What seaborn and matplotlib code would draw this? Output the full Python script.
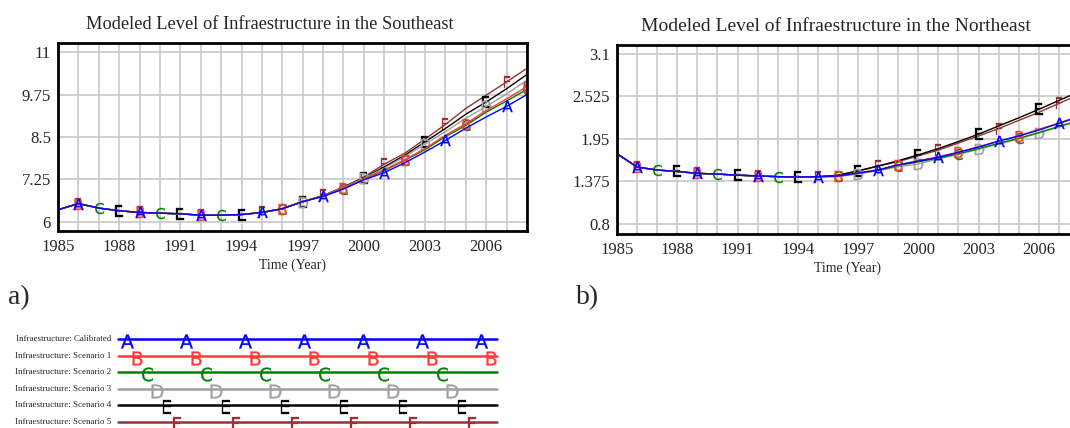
import numpy as np
import pandas as pd
import matplotlib
matplotlib.use("Agg")
import matplotlib.pyplot as plt
from matplotlib.ticker import MultipleLocator, FormatStrFormatter
import seaborn as sns

# --- data ---
years = list(range(1985, 2009))
series_names = ["Infraestructure: Calibrated", "Infraestructure: Scenario 1",
                "Infraestructure: Scenario 2", "Infraestructure: Scenario 3",
                "Infraestructure: Scenario 4", "Infraestructure: Scenario 5"]
letters = ["A", "B", "C", "D", "E", "F"]
colors = ["#0000ff", "#ff3a3a", "#008000", "#a0a0a0", "#000000", "#963232"]

# Southeast, shared part 1985-1997 then per scenario 1998-2008
se_common = [6.36, 6.54, 6.41, 6.33, 6.28, 6.26, 6.24, 6.20, 6.20, 6.22, 6.28, 6.39, 6.60]
se_calibrated = [6.75, 6.97, 7.24, 7.45, 7.74, 8.06, 8.40, 8.76, 9.09, 9.40, 9.75]
se_scen1 = [6.76, 6.99, 7.27, 7.53, 7.83, 8.16, 8.55, 8.89, 9.28, 9.62, 9.98]
se_scen2 = [6.76, 6.98, 7.26, 7.51, 7.81, 8.13, 8.51, 8.84, 9.23, 9.56, 9.90]
se_scen3 = [6.77, 7.01, 7.29, 7.58, 7.92, 8.29, 8.66, 9.05, 9.40, 9.77, 10.17]
se_scen4 = [6.77, 7.02, 7.30, 7.62, 7.96, 8.36, 8.75, 9.17, 9.53, 9.92, 10.34]
se_scen5 = [6.78, 7.03, 7.32, 7.70, 8.02, 8.44, 8.87, 9.34, 9.73, 10.12, 10.52]

# Northeast, shared part 1985-1995 then per scenario 1996-2008
ne_common = [1.75, 1.57, 1.53, 1.51, 1.485, 1.475, 1.46, 1.45, 1.44, 1.435, 1.44]
ne_calibrated = [1.45, 1.49, 1.53, 1.60, 1.65, 1.70, 1.77, 1.84, 1.92, 1.99, 2.07, 2.16, 2.25]
ne_scen1 = [1.445, 1.49, 1.535, 1.60, 1.655, 1.71, 1.77, 1.845, 1.92, 1.99, 2.08, 2.165, 2.26]
ne_scen2 = [1.445, 1.485, 1.525, 1.59, 1.64, 1.69, 1.75, 1.82, 1.89, 1.96, 2.035, 2.12, 2.20]
ne_scen3 = [1.44, 1.48, 1.52, 1.575, 1.61, 1.68, 1.74, 1.81, 1.88, 1.95, 2.03, 2.11, 2.19]
ne_scen4 = [1.46, 1.52, 1.585, 1.655, 1.735, 1.82, 1.915, 2.015, 2.125, 2.235, 2.35, 2.47, 2.59]
ne_scen5 = [1.455, 1.515, 1.58, 1.645, 1.72, 1.80, 1.895, 1.99, 2.09, 2.20, 2.31, 2.43, 2.55]

# years where each series carries its letter
marker_years = [
    [1986, 1989, 1992, 1995, 1998, 2001, 2004, 2007],
    [1986, 1989, 1992, 1996, 1999, 2002, 2005, 2008],
    [1987, 1990, 1993, 1996, 1999, 2002, 2005, 2008],
    [1997, 2000, 2003, 2006],
    [1988, 1991, 1994, 1997, 2000, 2003, 2006],
    [1986, 1989, 1992, 1995, 1998, 2001, 2004, 2007],
]

se_ticks = [6, 7.25, 8.5, 9.75, 11]
ne_ticks = [0.8, 1.375, 1.95, 2.525, 3.1]
x_ticks = list(range(1985, 2007, 3))

se = [se_common + s for s in [se_calibrated, se_scen1, se_scen2, se_scen3, se_scen4, se_scen5]]
ne = [ne_common + s for s in [ne_calibrated, ne_scen1, ne_scen2, ne_scen3, ne_scen4, ne_scen5]]

sns.set_style("white")
plt.rcParams["font.family"] = ["Liberation Serif", "DejaVu Serif"]
plt.rcParams["mathtext.fontset"] = "dejavusans"

fig = plt.figure(figsize=(10.7, 4.28), dpi=100)
ax1 = fig.add_axes([58 / 1070, 197 / 428, 469 / 1070, 188 / 428])
ax2 = fig.add_axes([617 / 1070, 194 / 428, 462 / 1070, 189 / 428])


def draw_panel(ax, data, title, ticks, ylim, title_size, title_x):
    # draw back to front so Calibrated ends on top
    for i in reversed(range(6)):
        df = pd.DataFrame({"year": years, "value": data[i]})
        idx = [years.index(y) for y in marker_years[i]]
        sns.lineplot(data=df, x="year", y="value", ax=ax, color=colors[i], lw=1.0,
                     marker="$\\mathsf{" + letters[i] + "}$", markevery=idx, ms=8,
                     mec=colors[i], mfc=colors[i], mew=0.2, errorbar=None)
    ax.set_xlim(1985, 2008)
    ax.set_ylim(*ylim)
    ax.set_xticks(x_ticks)
    ax.xaxis.set_minor_locator(MultipleLocator(1))
    ax.set_yticks(ticks)
    ax.yaxis.set_major_formatter(FormatStrFormatter("%g"))
    ax.grid(True, which="both", axis="x", color="#c8c8c8", lw=1.2)
    ax.grid(True, which="major", axis="y", color="#c8c8c8", lw=1.2)
    ax.set_axisbelow(True)
    ax.tick_params(which="both", length=0, labelsize=12)
    ax.tick_params(axis="x", pad=6)
    ax.tick_params(axis="y", pad=5)
    for sp in ax.spines.values():
        sp.set_visible(True)
        sp.set_color("black")
        sp.set_linewidth(2)
    ax.set_title(title, fontsize=title_size, pad=10, x=title_x)
    ax.set_xlabel("Time (Year)", fontsize=10, labelpad=2)
    ax.set_ylabel("")


draw_panel(ax1, se, "Modeled Level of Infraestructure in the Southeast", se_ticks,
           (5.735, 11.265), 13.2, 0.452)
draw_panel(ax2, ne, "Modeled Level of Infraestructure in the Northeast", ne_ticks,
           (0.665, 3.22), 14, 0.474)

fig.text(8 / 1070, 1 - 298 / 428, "a)", fontsize=20, va="center", ha="left")
fig.text(576 / 1070, 1 - 298 / 428, "b)", fontsize=20, va="center", ha="left")

# legend block drawn in its own axes (pixel-like coordinates)
leg = fig.add_axes([0, 0, 1, 1], zorder=-1)
leg.set_xlim(0, 1070)
leg.set_ylim(428, 0)
leg.axis("off")
for i in range(6):
    yy = 339.3 + 16.5 * i
    leg.plot([118, 497], [yy, yy], color=colors[i], lw=1.8)
    mx = np.arange(127 + 10 * i, 500, 59)
    leg.plot(mx, [yy + 2] * len(mx), ls="none", marker="$\\mathsf{" + letters[i] + "}$",
             ms=10, mec=colors[i], mfc=colors[i], mew=0.2, color=colors[i])
    leg.text(111, yy, series_names[i], ha="right", va="center", fontsize=6.4)

fig.savefig("out.png", dpi=100)
